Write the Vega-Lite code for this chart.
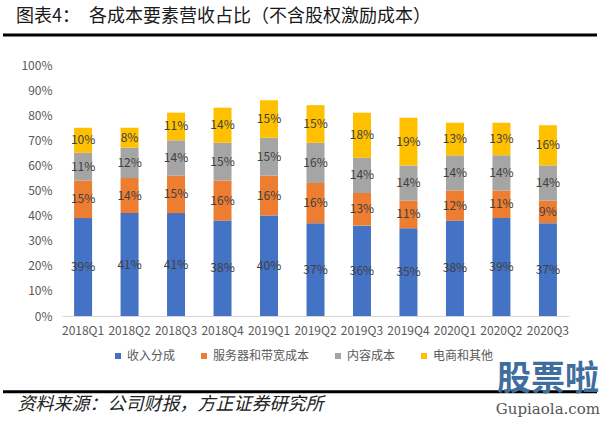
{
  "$schema": "https://vega.github.io/schema/vega-lite/v6.json",
  "width": 594,
  "height": 251,
  "autosize": {"type": "none"},
  "padding": {"left": 3, "top": 65, "right": 3, "bottom": 106},
  "background": "white",
  "config": {"view": {"stroke": null}, "font": "Noto Sans CJK SC"},
  "title": {
    "text": "图表4：　各成本要素营收占比（不含股权激励成本）",
    "anchor": "start",
    "frame": "group",
    "orient": "top",
    "offset": -2,
    "baseline": "middle",
    "dx": 13,
    "fontSize": 18,
    "fontWeight": "normal",
    "color": "#1a1a1a",
    "font": "Noto Sans CJK SC"
  },
  "layer": [
    {
      "data": {
        "values": [
          {"q": "2018Q1", "s": "收入分成", "v": 39}, {"q": "2018Q1", "s": "服务器和带宽成本", "v": 15}, {"q": "2018Q1", "s": "内容成本", "v": 11}, {"q": "2018Q1", "s": "电商和其他", "v": 10},
          {"q": "2018Q2", "s": "收入分成", "v": 41}, {"q": "2018Q2", "s": "服务器和带宽成本", "v": 14}, {"q": "2018Q2", "s": "内容成本", "v": 12}, {"q": "2018Q2", "s": "电商和其他", "v": 8},
          {"q": "2018Q3", "s": "收入分成", "v": 41}, {"q": "2018Q3", "s": "服务器和带宽成本", "v": 15}, {"q": "2018Q3", "s": "内容成本", "v": 14}, {"q": "2018Q3", "s": "电商和其他", "v": 11},
          {"q": "2018Q4", "s": "收入分成", "v": 38}, {"q": "2018Q4", "s": "服务器和带宽成本", "v": 16}, {"q": "2018Q4", "s": "内容成本", "v": 15}, {"q": "2018Q4", "s": "电商和其他", "v": 14},
          {"q": "2019Q1", "s": "收入分成", "v": 40}, {"q": "2019Q1", "s": "服务器和带宽成本", "v": 16}, {"q": "2019Q1", "s": "内容成本", "v": 15}, {"q": "2019Q1", "s": "电商和其他", "v": 15},
          {"q": "2019Q2", "s": "收入分成", "v": 37}, {"q": "2019Q2", "s": "服务器和带宽成本", "v": 16}, {"q": "2019Q2", "s": "内容成本", "v": 16}, {"q": "2019Q2", "s": "电商和其他", "v": 15},
          {"q": "2019Q3", "s": "收入分成", "v": 36}, {"q": "2019Q3", "s": "服务器和带宽成本", "v": 13}, {"q": "2019Q3", "s": "内容成本", "v": 14}, {"q": "2019Q3", "s": "电商和其他", "v": 18},
          {"q": "2019Q4", "s": "收入分成", "v": 35}, {"q": "2019Q4", "s": "服务器和带宽成本", "v": 11}, {"q": "2019Q4", "s": "内容成本", "v": 14}, {"q": "2019Q4", "s": "电商和其他", "v": 19},
          {"q": "2020Q1", "s": "收入分成", "v": 38}, {"q": "2020Q1", "s": "服务器和带宽成本", "v": 12}, {"q": "2020Q1", "s": "内容成本", "v": 14}, {"q": "2020Q1", "s": "电商和其他", "v": 13},
          {"q": "2020Q2", "s": "收入分成", "v": 39}, {"q": "2020Q2", "s": "服务器和带宽成本", "v": 11}, {"q": "2020Q2", "s": "内容成本", "v": 14}, {"q": "2020Q2", "s": "电商和其他", "v": 13},
          {"q": "2020Q3", "s": "收入分成", "v": 37}, {"q": "2020Q3", "s": "服务器和带宽成本", "v": 9}, {"q": "2020Q3", "s": "内容成本", "v": 14}, {"q": "2020Q3", "s": "电商和其他", "v": 16}
        ]
      },
      "transform": [
        {"calculate": "indexof(['收入分成','服务器和带宽成本','内容成本','电商和其他'], datum.s)", "as": "o"},
        {"window": [{"op": "sum", "field": "v", "as": "cum"}], "groupby": ["q"], "sort": [{"field": "o", "order": "ascending"}], "frame": [null, 0]},
        {"calculate": "datum.cum - datum.v / 2", "as": "mid"},
        {"calculate": "datum.v + '%'", "as": "lbl"}
      ],
      "layer": [
        {
          "mark": {"type": "bar"},
          "encoding": {
            "x": {
              "field": "q", "type": "nominal", "sort": null,
              "scale": {"range": [59, 566], "paddingInner": 0.613, "paddingOuter": 0.26},
              "axis": {
                "title": "资料来源：公司财报，方正证券研究所",
                "titleX": 14, "titleY": 88, "titleAlign": "left", "titleAnchor": null,
                "titleBaseline": "middle", "titleFontSize": 18, "titleFontStyle": "italic",
                "titleFontWeight": "normal", "titleColor": "#222222", "titleFont": "Noto Sans CJK SC",
                "labelAngle": 0, "labelFontSize": 12, "labelColor": "#595959", "labelPadding": 9,
                "ticks": false, "domainColor": "#d9d9d9", "domainWidth": 1, "grid": false
              }
            },
            "y": {
              "field": "v", "type": "quantitative", "stack": "zero",
              "scale": {"domain": [0, 100], "nice": false},
              "axis": {"title": null, "values": [0, 10, 20, 30, 40, 50, 60, 70, 80, 90, 100], "labelExpr": "datum.value + '%'", "labelOverlap": false, "domain": false, "ticks": false, "grid": false, "offset": -59, "labelPadding": 10, "labelFontSize": 12, "labelColor": "#595959"}
            },
            "color": {
              "field": "s", "type": "nominal",
              "scale": {"domain": ["收入分成", "服务器和带宽成本", "内容成本", "电商和其他"], "range": ["#4472C4", "#ED7D31", "#A5A5A5", "#FFC000"]},
              "legend": {
                "orient": "none", "legendX": 109, "legendY": 285, "direction": "horizontal",
                "title": null, "symbolType": "square", "symbolSize": 36, "symbolStrokeWidth": 0,
                "labelFontSize": 12, "labelColor": "#595959", "labelOffset": 3, "columnPadding": 22, "padding": 0
              }
            },
            "order": {"field": "o", "type": "quantitative"}
          }
        },
        {
          "mark": {"type": "text", "fontSize": 12, "color": "#404040", "baseline": "middle"},
          "encoding": {
            "x": {"field": "q", "type": "nominal", "sort": null},
            "y": {
              "field": "mid", "type": "quantitative", "scale": {"domain": [0, 100], "nice": false},
              "axis": {"title": null, "values": [0, 10, 20, 30, 40, 50, 60, 70, 80, 90, 100], "labelExpr": "datum.value + '%'", "labelOverlap": false, "domain": false, "ticks": false, "grid": false, "offset": -59, "labelPadding": 10, "labelFontSize": 12, "labelColor": "#595959"}
            },
            "text": {"field": "lbl"}
          }
        }
      ]
    },
    {
      "data": {"values": [{}]},
      "mark": {"type": "rule", "strokeWidth": 3, "color": "#000000"},
      "encoding": {"y": {"datum": 112, "type": "quantitative", "scale": {"domain": [0, 100], "nice": false},
        "axis": {"title": null, "values": [0, 10, 20, 30, 40, 50, 60, 70, 80, 90, 100], "labelExpr": "datum.value + '%'", "labelOverlap": false, "domain": false, "ticks": false, "grid": false, "offset": -59, "labelPadding": 10, "labelFontSize": 12, "labelColor": "#595959"}}}
    },
    {
      "data": {"values": [{}]},
      "mark": {"type": "rule", "strokeWidth": 3, "color": "#000000"},
      "encoding": {"y": {"datum": -30.2, "type": "quantitative", "scale": {"domain": [0, 100], "nice": false},
        "axis": {"title": null, "values": [0, 10, 20, 30, 40, 50, 60, 70, 80, 90, 100], "labelExpr": "datum.value + '%'", "labelOverlap": false, "domain": false, "ticks": false, "grid": false, "offset": -59, "labelPadding": 10, "labelFontSize": 12, "labelColor": "#595959"}}}
    },
    {
      "data": {"values": [{"t": "股票啦"}]},
      "mark": {"type": "text", "fontSize": 34, "fontWeight": "bold", "color": "#3f6e9e", "baseline": "middle", "font": "Noto Sans CJK SC"},
      "encoding": {
        "x": {"datum": "2020Q3", "type": "nominal"},
        "y": {"datum": -25.5, "type": "quantitative", "scale": {"domain": [0, 100], "nice": false},
          "axis": {"title": null, "values": [0, 10, 20, 30, 40, 50, 60, 70, 80, 90, 100], "labelExpr": "datum.value + '%'", "labelOverlap": false, "domain": false, "ticks": false, "grid": false, "offset": -59, "labelPadding": 10, "labelFontSize": 12, "labelColor": "#595959"}},
        "text": {"field": "t"}
      }
    },
    {
      "data": {"values": [{"t": "Gupiaola.com"}]},
      "mark": {"type": "text", "fontSize": 15, "color": "#555555", "baseline": "middle", "font": "DejaVu Serif"},
      "encoding": {
        "x": {"datum": "2020Q3", "type": "nominal"},
        "y": {"datum": -37.2, "type": "quantitative", "scale": {"domain": [0, 100], "nice": false},
          "axis": {"title": null, "values": [0, 10, 20, 30, 40, 50, 60, 70, 80, 90, 100], "labelExpr": "datum.value + '%'", "labelOverlap": false, "domain": false, "ticks": false, "grid": false, "offset": -59, "labelPadding": 10, "labelFontSize": 12, "labelColor": "#595959"}},
        "text": {"field": "t"}
      }
    }
  ]
}
